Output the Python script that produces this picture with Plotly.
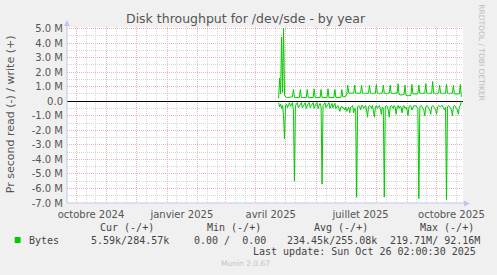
import plotly.graph_objects as go
import pandas as pd

# ---------------- data (values in M bytes/s, one per day) ----------------
start_day = "2025-04-24"
write_m = [
    0.2, 1.6, 0.5, 4.4, 0.6, 5.0, 0.4, 0.3, 0.25, 0.25,
    0.25, 0.25, 0.25, 0.25, 0.3, 0.8, 0.25, 0.25, 0.25, 0.25,
    0.25, 0.25, 0.8, 0.25, 0.25, 0.25, 0.25, 0.25, 0.25, 0.8,
    0.25, 0.25, 0.25, 0.25, 0.25, 0.25, 0.85, 0.25, 0.25, 0.25,
    0.25, 0.25, 0.25, 0.8, 0.25, 0.25, 0.25, 0.25, 0.25, 0.25,
    0.85, 0.25, 0.25, 0.25, 0.25, 0.25, 0.25, 0.8, 0.25, 0.25,
    0.25, 0.25, 0.25, 0.25, 0.8, 0.3, 0.3, 0.3, 0.35, 0.5,
    1.1, 0.55, 0.55, 0.5, 0.55, 0.55, 0.55, 1.1, 0.55, 0.55,
    0.55, 0.5, 0.55, 0.55, 1.1, 0.55, 0.55, 0.5, 0.55, 0.55,
    0.55, 0.55, 1.1, 0.55, 0.55, 0.5, 0.55, 0.55, 0.55, 1.15,
    0.55, 0.55, 0.5, 0.55, 0.55, 0.55, 1.1, 0.55, 0.55, 0.5,
    0.55, 0.55, 0.55, 1.1, 0.55, 0.55, 0.5, 0.55, 0.55, 0.55,
    0.55, 1.2, 0.45, 0.45, 0.4, 0.45, 0.45, 0.45, 1.1, 0.4,
    0.4, 0.35, 0.4, 0.4, 0.4, 1.15, 0.5, 0.5, 0.5, 0.5,
    0.5, 0.5, 1.1, 0.55, 0.55, 0.5, 0.55, 0.55, 0.55, 1.2,
    0.55, 0.55, 0.5, 0.55, 0.55, 0.55, 1.35, 0.55, 0.55, 0.5,
    0.55, 0.55, 0.55, 1.1, 0.55, 0.55, 0.5, 0.55, 0.55, 0.55,
    1.15, 0.55, 0.55, 0.5, 0.55, 0.55, 0.55, 1.1, 0.5, 0.5,
    0.5, 0.5, 0.5, 0.5, 1.15, 0.3,
]
read_m = [
    0.1, 0.4, 0.2, 0.5, 0.3, 1.0, 2.6, 0.3, 0.2, 0.45,
    0.25, 0.1, 0.35, 0.15, 0.1, 0.6, 5.5, 0.3, 0.15, 0.1,
    0.45, 0.3, 0.15, 0.1, 0.45, 0.3, 0.15, 0.1, 0.5, 0.3,
    0.15, 0.1, 0.45, 0.3, 0.15, 0.1, 0.5, 0.3, 0.15, 0.1,
    0.5, 0.3, 0.15, 0.4, 5.7, 0.3, 0.15, 0.1, 0.45, 0.3,
    0.2, 0.1, 0.5, 0.3, 0.15, 0.45, 0.3, 0.15, 0.5, 0.35,
    0.3, 0.5, 0.7, 0.4, 0.35, 0.5, 0.45, 0.6, 0.4, 0.7,
    0.5, 0.4, 0.8, 0.4, 0.35, 0.3, 0.8, 0.5, 0.6, 6.6,
    0.4, 0.3, 0.35, 0.6, 0.3, 0.3, 0.5, 0.35, 0.3, 0.6,
    1.1, 0.4, 0.3, 0.35, 0.5, 0.3, 0.6, 1.1, 0.4, 0.3,
    0.5, 0.35, 0.3, 0.5, 0.9, 0.4, 0.5, 6.6, 0.4, 0.3,
    0.35, 0.6, 1.1, 0.4, 0.3, 0.35, 0.5, 0.3, 0.4, 0.9,
    0.4, 0.3, 0.5, 0.35, 0.4, 0.8, 0.35, 0.3, 0.5, 0.4,
    0.6, 1.0, 0.4, 0.3, 0.35, 0.6, 0.4, 0.3, 0.35, 0.3,
    0.4, 0.5, 6.7, 0.4, 0.3, 0.35, 0.5, 0.6, 1.0, 0.4,
    0.3, 0.35, 0.5, 0.6, 0.9, 0.4, 0.3, 0.35, 0.5, 0.6,
    0.9, 0.4, 0.3, 0.35, 0.4, 0.3, 0.3, 0.5, 0.6, 0.4,
    6.75, 0.4, 0.3, 0.35, 0.5, 0.6, 1.0, 0.4, 0.3, 0.35,
    0.5, 0.6, 0.9, 0.4, 0.3, 0.01,
]

y_tick_vals = [5, 4, 3, 2, 1, 0, -1, -2, -3, -4, -5, -6, -7]
y_tick_text = ["5.0 M", "4.0 M", "3.0 M", "2.0 M", "1.0 M", "0.0", "-1.0 M",
               "-2.0 M", "-3.0 M", "-4.0 M", "-5.0 M", "-6.0 M", "-7.0 M"]
x_label_dates = ["2024-10-16", "2025-01-16", "2025-04-16", "2025-07-16", "2025-10-16"]
x_label_text = ["octobre 2024", "janvier 2025", "avril 2025", "juillet 2025", "octobre 2025"]
month_starts = pd.date_range("2024-10-01", "2025-10-01", freq="MS")
minor_days = [d + pd.Timedelta(days=k) for d in pd.date_range("2024-09-01", "2025-10-01", freq="MS") for k in (10, 20)]

legend_headers = ["Cur (-/+)", "Min (-/+)", "Avg (-/+)", "Max (-/+)"]
legend_values = ["5.59k/284.57k", "0.00 /\u00a0 0.00", "234.45k/255.08k", "219.71M/ 92.16M"]

# ---------------- figure ----------------
W, H = 497, 275
ML, MR, MT, MB = 67, 29, 27, 72
PW, PH = W - ML - MR, H - MT - MB

def px(x):
    return (x - ML) / PW

def py(y):
    return (H - MB - y) / PH

dates = pd.date_range(start_day, periods=len(write_m), freq="D")
GREEN = "#00CC00"
RED_GRID = "#eab4b4"
GREY_GRID = "#d6d6d6"

fig = go.Figure()
fig.add_trace(go.Scatter(x=dates, y=write_m, mode="lines",
                         line=dict(color=GREEN, width=1), showlegend=False, hoverinfo="skip"))
fig.add_trace(go.Scatter(x=dates, y=[-v for v in read_m], mode="lines",
                         line=dict(color=GREEN, width=1), showlegend=False, hoverinfo="skip"))
# invisible trace to activate xaxis2 for labels
fig.add_trace(go.Scatter(x=[dates[0]], y=[None], xaxis="x2", showlegend=False, hoverinfo="skip"))

xrange = ["2024-09-21 17:00", "2025-10-27 17:00"]
fig.update_layout(
    width=W, height=H,
    margin=dict(l=ML, r=MR, t=MT, b=MB, pad=0),
    paper_bgcolor="#F0F0F0", plot_bgcolor="#FFFFFF",
    font=dict(family="DejaVu Sans", size=10, color="#555555"),
    xaxis=dict(range=xrange, type="date", tickmode="array", tickvals=list(month_starts),
               ticktext=[""] * len(month_starts), showticklabels=False,
               showgrid=True, gridcolor=RED_GRID, griddash="1px,1px", gridwidth=1,
               minor=dict(tickmode="array", tickvals=minor_days, showgrid=True,
                          gridcolor=GREY_GRID, griddash="1px,1px", gridwidth=1),
               zeroline=False, showline=False, ticks=""),
    xaxis2=dict(range=xrange, type="date", overlaying="x", side="bottom",
                tickmode="array", tickvals=x_label_dates, ticktext=x_label_text,
                showgrid=False, zeroline=False, showline=False, ticks="",
                ticklabelstandoff=4,
                tickfont=dict(size=10, color="#555555")),
    yaxis=dict(range=[-7.0, 5.1], tickmode="array", tickvals=y_tick_vals, ticktext=y_tick_text,
               showgrid=True, gridcolor=RED_GRID, griddash="1px,1px", gridwidth=1,
               minor=dict(dtick=0.5, showgrid=True, gridcolor=GREY_GRID, griddash="1px,1px", gridwidth=1),
               zeroline=True, zerolinecolor="#000000", zerolinewidth=1,
               ticklabelstandoff=3,
               showline=False, ticks="", tickfont=dict(size=10, color="#555555")),
)

AX = "#c4c4ee"
shapes = [
    dict(type="line", xref="paper", yref="paper", x0=0, x1=0, y0=0, y1=py(24), line=dict(color=AX, width=1)),
    dict(type="line", xref="paper", yref="paper", x0=0, x1=px(471), y0=0, y1=0, line=dict(color=AX, width=1)),
    dict(type="path", xref="paper", yref="paper",
         path=f"M {px(64)},{py(26)} L {px(70)},{py(26)} L {px(67)},{py(20)} Z",
         fillcolor=AX, line=dict(color=AX, width=0)),
    dict(type="path", xref="paper", yref="paper",
         path=f"M {px(469)},{py(200.5)} L {px(469)},{py(206.5)} L {px(475)},{py(203.5)} Z",
         fillcolor=AX, line=dict(color=AX, width=0)),
    dict(type="rect", xref="paper", yref="paper", x0=px(14), x1=px(20), y0=py(243), y1=py(237),
         fillcolor=GREEN, line=dict(width=0)),
]
fig.update_layout(shapes=shapes)

ann = []
ann.append(dict(text="Disk throughput for /dev/sde - by year", x=px(248.5), y=py(18), xref="paper", yref="paper",
                showarrow=False, xanchor="center", yanchor="middle",
                font=dict(family="DejaVu Sans", size=12.5, color="#555555")))
ann.append(dict(text="Pr second read (-) / write (+)", x=px(10), y=py(114.5), xref="paper", yref="paper",
                showarrow=False, xanchor="center", yanchor="middle", textangle=-90,
                font=dict(family="DejaVu Sans", size=11, color="#555555")))
ann.append(dict(text="RRDTOOL / TOBI OETIKER", x=px(487), y=py(53), xref="paper", yref="paper",
                showarrow=False, xanchor="center", yanchor="middle", textangle=90,
                font=dict(family="DejaVu Sans", size=7.5, color="#bbbbbb")))
MONO = dict(family="DejaVu Sans Mono", size=10, color="#444444")
for txt, x0 in zip(legend_headers, [98.3, 206.7, 315, 422.7]):
    ann.append(dict(text=txt, x=px(x0), y=py(227.3), xref="paper", yref="paper", showarrow=False,
                    xanchor="left", yanchor="middle", font=MONO))
ann.append(dict(text="Bytes", x=px(26.7), y=py(240), xref="paper", yref="paper", showarrow=False,
                xanchor="left", yanchor="middle", font=MONO))
for txt, x0 in zip(legend_values, [89.3, 194, 287.3, 392.3]):
    ann.append(dict(text=txt, x=px(x0), y=py(240), xref="paper", yref="paper", showarrow=False,
                    xanchor="left", yanchor="middle", font=MONO))
ann.append(dict(text="Last update: Sun Oct 26 02:00:30 2025", x=px(482.7), y=py(251.7), xref="paper", yref="paper",
                showarrow=False, xanchor="right", yanchor="middle", font=MONO))
ann.append(dict(text="Munin 2.0.67", x=px(248), y=py(263.3), xref="paper", yref="paper",
                showarrow=False, xanchor="center", yanchor="middle",
                font=dict(family="DejaVu Sans", size=7.5, color="#c4c4c4")))
fig.update_layout(annotations=ann)

fig.write_html("out.html")
